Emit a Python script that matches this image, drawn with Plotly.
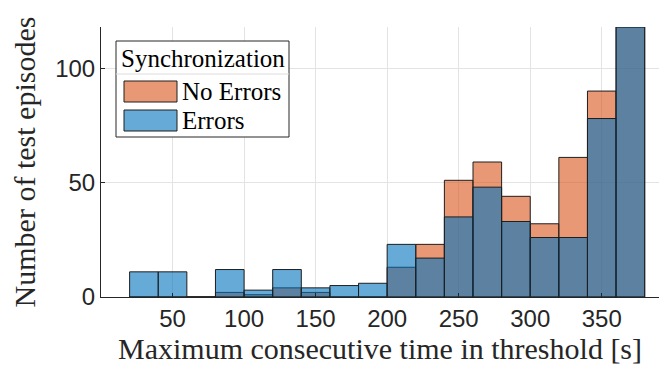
import plotly.graph_objects as go

# Data (histogram counts, bins of width 20 s from 20 to 380 s)
bin_edges = [20, 40, 60, 80, 100, 120, 140, 160, 180, 200, 220, 240, 260, 280, 300, 320, 340, 360, 380]
no_errors = [0, 0, 0, 2, 1, 4, 2, 0, 0, 13, 23, 51, 59, 44, 32, 61, 90, 118]
errors = [11, 11, 0, 12, 3, 12, 4, 5, 6, 23, 17, 35, 48, 33, 26, 26, 78, 118]
x_ticks = [50, 100, 150, 200, 250, 300, 350]
y_ticks = [0, 50, 100]

centers = [(a + b) / 2 for a, b in zip(bin_edges[:-1], bin_edges[1:])]
widths = [b - a for a, b in zip(bin_edges[:-1], bin_edges[1:])]

ORANGE = "rgba(217,83,25,0.6)"
BLUE = "rgba(0,114,189,0.6)"
EDGE = "rgb(30,30,30)"

fig = go.Figure()
fig.add_trace(go.Bar(x=centers, y=no_errors, width=widths, name="No Errors",
                     marker=dict(color=ORANGE, line=dict(color=EDGE, width=1)),
                     showlegend=False))
fig.add_trace(go.Bar(x=centers, y=errors, width=widths, name="Errors",
                     marker=dict(color=BLUE, line=dict(color=EDGE, width=1)),
                     showlegend=False))

W, H = 659, 372
L, R, T, B = 101, 0, 27, 75
pw, ph = W - L - R, H - T - B

def px(X):
    return (X - L) / pw

def py(Y):
    return (H - B - Y) / ph

serif = "Liberation Serif"
sans = "Liberation Sans"

fig.update_layout(
    width=W, height=H,
    margin=dict(l=L, r=R, t=T, b=B, pad=0),
    barmode="overlay",
    plot_bgcolor="white", paper_bgcolor="white",
    xaxis=dict(range=[0, 390], tickvals=x_ticks, showgrid=True, gridcolor="#e3e3e3", gridwidth=1,
               ticks="inside", ticklen=4, tickcolor="#262626", showline=True, linecolor="#262626",
               linewidth=1, zeroline=False,
               tickfont=dict(family=sans, size=24, color="#262626"),
               title=dict(text="Maximum consecutive time in threshold [s]",
                          font=dict(family=serif, size=30, color="#262626"), standoff=4)),
    yaxis=dict(range=[0, 118], tickvals=y_ticks, showgrid=True, gridcolor="#e3e3e3", gridwidth=1,
               ticks="inside", ticklen=4, tickcolor="#262626", showline=True, linecolor="#262626",
               linewidth=1, zeroline=False,
               tickfont=dict(family=sans, size=24, color="#262626"),
               title=dict(text="Number of test episodes",
                          font=dict(family=serif, size=30, color="#262626"), standoff=10)),
)

# Custom legend (MATLAB style)
bx0, bx1, by0, by1 = 116, 289, 41, 137
shapes = [
    dict(type="rect", xref="paper", yref="paper", x0=px(bx0), x1=px(bx1), y0=py(by1), y1=py(by0),
         line=dict(color="#262626", width=1), fillcolor="white", layer="above"),
    dict(type="line", xref="paper", yref="paper", x0=px(bx0), x1=px(bx1), y0=py(74), y1=py(74),
         line=dict(color="#dcdcdc", width=1), layer="above"),
    dict(type="rect", xref="paper", yref="paper", x0=px(124), x1=px(177), y0=py(102), y1=py(81),
         line=dict(color=EDGE, width=1), fillcolor=ORANGE, layer="above"),
    dict(type="rect", xref="paper", yref="paper", x0=px(124), x1=px(177), y0=py(131), y1=py(110),
         line=dict(color=EDGE, width=1), fillcolor=BLUE, layer="above"),
]
fig.update_layout(shapes=shapes)
ann = [
    dict(text="Synchronization", x=px(203), y=py(58), xanchor="center", yanchor="middle"),
    dict(text="No Errors", x=px(180), y=py(91), xanchor="left", yanchor="middle"),
    dict(text="Errors", x=px(180), y=py(120), xanchor="left", yanchor="middle"),
]
for a in ann:
    fig.add_annotation(xref="paper", yref="paper", showarrow=False,
                       font=dict(family=serif, size=25, color="#000000"), **a)

fig.write_html("out.html")
